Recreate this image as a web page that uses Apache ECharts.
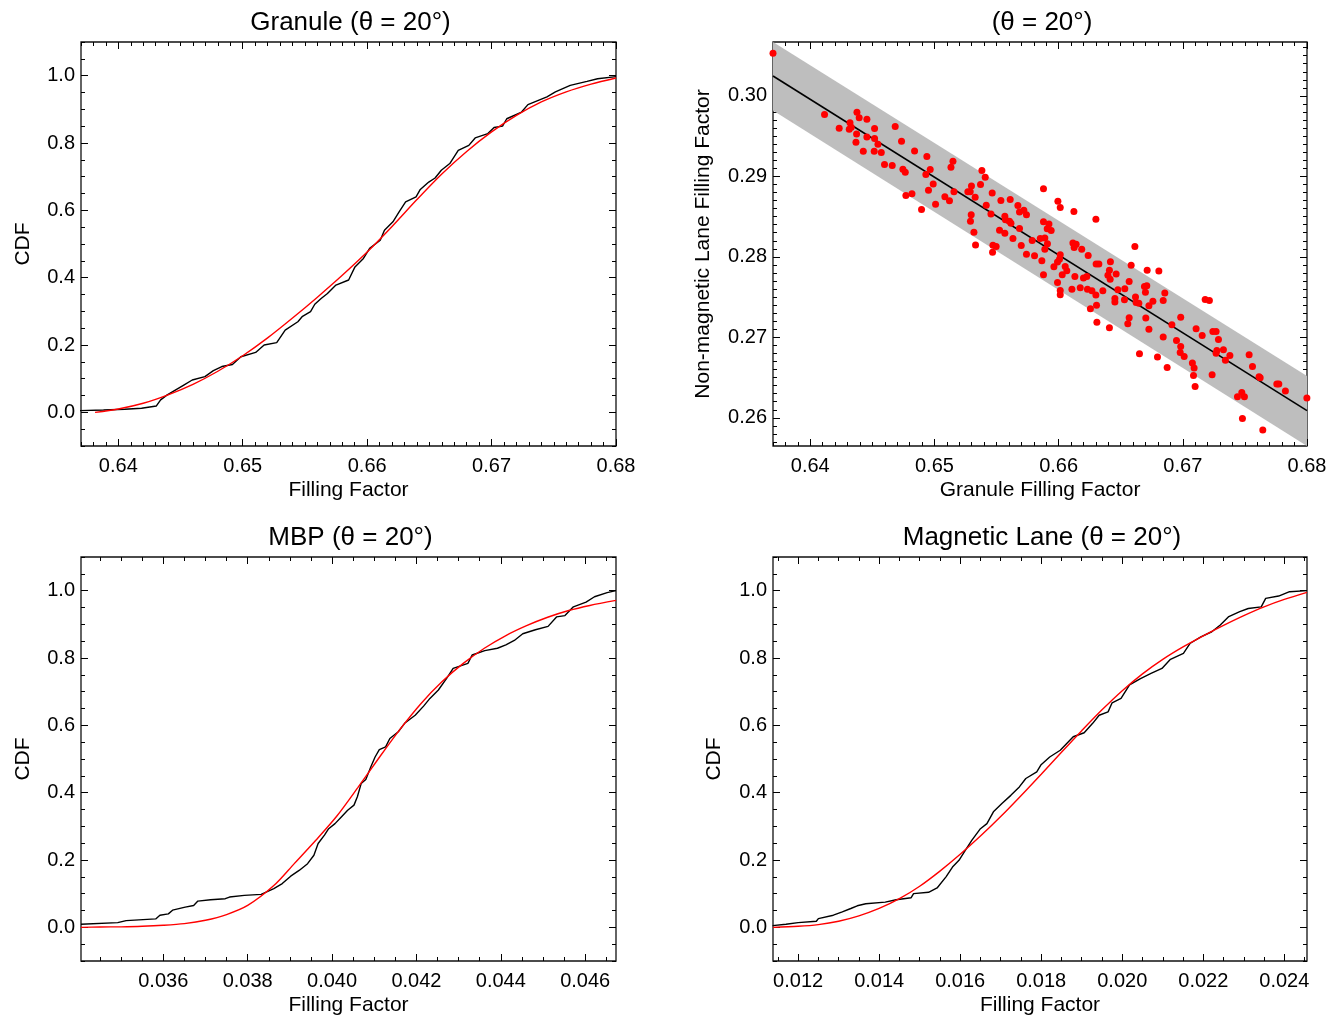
<!DOCTYPE html>
<html><head><meta charset="utf-8">
<script src="https://cdn.jsdelivr.net/npm/echarts@6/dist/echarts.min.js"></script>
<style>html,body{margin:0;padding:0;background:#fff}#c{width:1338px;height:1019px}</style>
</head><body><div id="c"></div>
<script>
// ---------------- DATA ----------------
// Panel 1: Granule CDF
const granuleEcdfX = [0.63688,0.63881,0.64051,0.64187,0.64306,0.64340,0.64390,0.64458,0.64526,0.64594,0.64696,0.64764,0.64832,0.64917,0.64985,0.65104,0.65172,0.65273,0.65341,0.65443,0.65477,0.65545,0.65579,0.65630,0.65681,0.65749,0.65851,0.65902,0.65970,0.66020,0.66105,0.66139,0.66207,0.66258,0.66309,0.66393,0.66427,0.66495,0.66546,0.66596,0.66664,0.66732,0.66817,0.66868,0.66970,0.67020,0.67088,0.67122,0.67241,0.67292,0.67445,0.67513,0.67632,0.67767,0.67852,0.68];
const granuleEcdfY = [0.005,0.007,0.009,0.012,0.019,0.037,0.051,0.066,0.081,0.096,0.106,0.124,0.136,0.142,0.165,0.178,0.200,0.207,0.244,0.269,0.284,0.299,0.321,0.338,0.353,0.378,0.393,0.432,0.457,0.487,0.511,0.541,0.566,0.596,0.625,0.640,0.662,0.684,0.696,0.719,0.739,0.778,0.793,0.815,0.828,0.846,0.850,0.872,0.892,0.914,0.937,0.952,0.971,0.983,0.991,0.997];
const granuleFitX = [0.63813,0.640,0.642,0.644,0.646,0.648,0.650,0.652,0.654,0.656,0.658,0.660,0.662,0.664,0.666,0.668,0.670,0.672,0.674,0.676,0.678,0.680];
const granuleFitY = [0.000,0.010,0.027,0.052,0.083,0.122,0.168,0.221,0.280,0.342,0.407,0.476,0.552,0.632,0.708,0.775,0.833,0.882,0.922,0.952,0.975,0.993];

// Panel 2: scatter granule vs non-magnetic lane
const scatterX = [0.64115,0.64376,0.64394,0.64456,0.64320,0.64233,0.64330,0.64314,0.64518,0.64373,
0.64456,0.64518,0.64368,0.64545,0.64427,0.64515,0.64572,0.64684,0.64735,0.64840,
0.64939,0.64966,0.64931,0.64990,0.64952,0.64598,0.64660,0.64746,0.64765,0.64770,
0.64819,0.64896,0.65009,0.65084,0.65121,0.65157,0.65149,0.65133,0.65269,0.65298,
0.65288,0.65328,0.65382,0.65409,0.65371,0.65465,0.65417,0.65455,0.65535,0.65610,
0.65672,0.65685,0.65720,0.65741,0.65567,0.65572,0.65604,0.65616,0.65685,0.65524,
0.65567,0.65632,0.65787,0.65296,0.65290,0.65318,0.65331,0.65471,0.65497,0.65468,
0.65699,0.65741,0.65806,0.65865,0.65878,0.65878,0.65878,0.65852,0.65889,0.65908,
0.65922,0.65910,0.65889,0.63700,0.65994,0.66013,0.66123,0.65940,0.66115,0.66141,
0.66125,0.66186,0.66013,0.66007,0.65991,0.65962,0.66053,0.66066,0.66029,0.66131,
0.65991,0.66013,0.66013,0.66107,0.66174,0.66300,0.66614,0.66238,0.66302,0.66324,
0.66417,0.66584,0.66409,0.66463,0.66397,0.66415,0.66227,0.66200,0.66713,0.66807,
0.66568,0.66232,0.66268,0.66300,0.66356,0.66477,0.66533,0.66691,0.66710,0.66699,
0.66855,0.66619,0.66453,0.66453,0.66530,0.66624,0.66646,0.66759,0.66842,0.66727,
0.66256,0.66305,0.66568,0.66557,0.66702,0.66308,0.66409,0.66727,0.66912,0.66983,
0.66842,0.66949,0.66983,0.66979,0.66651,0.66796,0.66874,0.67180,0.67214,0.67107,
0.67156,0.67242,0.67268,0.67287,0.67327,0.67274,0.67268,0.67379,0.67343,0.67534,
0.67011,0.67077,0.67091,0.67086,0.67099,0.67236,0.67561,0.67614,0.67623,0.67757,
0.67773,0.67826,0.67475,0.67440,0.67496,0.67999,0.67480,0.67644];
const scatterY = [0.29768,0.29798,0.29730,0.29711,0.29668,0.29599,0.29611,0.29586,0.29594,0.29528,
0.29491,0.29470,0.29425,0.29400,0.29313,0.29313,0.29296,0.29619,0.29437,0.29317,
0.29246,0.29085,0.29023,0.28907,0.28829,0.29147,0.29134,0.29090,0.29052,0.28762,
0.28783,0.28588,0.28655,0.28746,0.28696,0.28808,0.29189,0.29114,0.28808,0.28882,
0.28808,0.28742,0.29072,0.28990,0.28898,0.28795,0.28642,0.28534,0.28700,0.28712,
0.28638,0.28559,0.28580,0.28522,0.28506,0.28460,0.28444,0.28419,0.28352,0.28332,
0.28295,0.28228,0.28203,0.28522,0.28444,0.28307,0.28149,0.28146,0.28128,0.28059,
0.28141,0.28034,0.28013,0.27951,0.27777,0.28845,0.28435,0.28228,0.28236,0.28348,
0.28410,0.28162,0.28096,0.30530,0.28692,0.28613,0.28563,0.28327,0.28171,0.28158,
0.28116,0.28094,0.28025,0.27972,0.27935,0.27876,0.27880,0.27827,0.27777,0.27756,
0.27681,0.27582,0.27528,0.27599,0.27615,0.28469,0.28128,0.28017,0.27910,0.27910,
0.27938,0.27897,0.27835,0.27786,0.27773,0.27723,0.27756,0.27736,0.27835,0.27823,
0.27694,0.27599,0.27578,0.27525,0.27578,0.27591,0.27603,0.27632,0.27640,0.27562,
0.27550,0.27500,0.27483,0.27438,0.27466,0.27433,0.27425,0.27450,0.27458,0.27392,
0.27355,0.27400,0.27243,0.27168,0.27239,0.27189,0.27119,0.27102,0.27156,0.27249,
0.27003,0.26961,0.26886,0.26812,0.26796,0.26755,0.26625,0.27470,0.27458,0.27106,
0.27023,0.27073,0.27073,0.26973,0.26845,0.26837,0.26804,0.26775,0.26717,0.26783,
0.26762,0.26680,0.26618,0.26526,0.26390,0.26535,0.26638,0.26510,0.26498,0.26419,
0.26419,0.26332,0.26315,0.26261,0.26261,0.26246,0.25992,0.25848];
const fitLineX = [0.637, 0.680];
const fitLineY = [0.30248, 0.2609];
const bandX = [0.637, 0.680];
const bandLow = [0.2982, 0.2565];
const bandHigh = [0.3067, 0.2652];

// Panel 3: MBP CDF
const mbpEcdfX = [0.03405,0.03492,0.03512,0.03582,0.03592,0.03612,0.03622,0.03652,0.03672,0.03682,0.03712,0.03747,0.03757,0.03792,0.03832,0.03862,0.03882,0.03902,0.03922,0.03942,0.03957,0.03967,0.03982,0.03992,0.04007,0.04022,0.04037,0.04052,0.04060,0.04069,0.04080,0.04092,0.04102,0.04112,0.04127,0.04137,0.04157,0.04172,0.04197,0.04217,0.04232,0.04252,0.04272,0.04287,0.04322,0.04332,0.04362,0.04392,0.04412,0.04432,0.04452,0.04482,0.04512,0.04532,0.04552,0.04572,0.04602,0.04622,0.04652,0.04673];
const mbpEcdfY = [0.009,0.014,0.020,0.025,0.036,0.040,0.051,0.060,0.065,0.078,0.082,0.085,0.090,0.095,0.098,0.115,0.130,0.152,0.169,0.189,0.214,0.249,0.274,0.293,0.308,0.328,0.348,0.363,0.388,0.427,0.439,0.477,0.506,0.528,0.536,0.561,0.581,0.606,0.630,0.657,0.680,0.705,0.740,0.769,0.784,0.809,0.822,0.829,0.839,0.852,0.872,0.884,0.894,0.922,0.926,0.952,0.966,0.982,0.994,1.000];
const mbpFitX = [0.03405,0.0345,0.0350,0.0355,0.0360,0.0365,0.0370,0.0375,0.0380,0.03862,0.03911,0.03961,0.04011,0.04061,0.04111,0.04161,0.04211,0.04261,0.04311,0.04361,0.04411,0.04461,0.04511,0.04561,0.04611,0.04673];
const mbpFitY = [0.000,0.001,0.0015,0.003,0.006,0.011,0.021,0.038,0.065,0.124,0.190,0.258,0.330,0.415,0.503,0.588,0.665,0.730,0.784,0.829,0.866,0.896,0.921,0.941,0.956,0.971];

// Panel 4: Magnetic lane CDF
const mlEcdfX = [0.01137,0.01170,0.01200,0.01245,0.01250,0.01287,0.01309,0.01330,0.01346,0.01367,0.01415,0.01442,0.01479,0.01485,0.01522,0.01543,0.01565,0.01581,0.01597,0.01613,0.01629,0.01650,0.01666,0.01682,0.01703,0.01725,0.01746,0.01762,0.01789,0.01799,0.01821,0.01847,0.01879,0.01906,0.01927,0.01943,0.01965,0.01975,0.01997,0.02018,0.02045,0.02071,0.02098,0.02119,0.02151,0.02167,0.02194,0.02221,0.02242,0.02263,0.02290,0.02311,0.02343,0.02354,0.02386,0.02413,0.02456];
const mlEcdfY = [0.005,0.009,0.014,0.018,0.026,0.036,0.046,0.056,0.064,0.070,0.075,0.082,0.088,0.100,0.104,0.117,0.150,0.179,0.199,0.229,0.259,0.293,0.308,0.343,0.368,0.392,0.417,0.442,0.462,0.482,0.506,0.526,0.566,0.578,0.606,0.630,0.640,0.667,0.680,0.720,0.739,0.754,0.769,0.796,0.814,0.843,0.863,0.878,0.898,0.923,0.938,0.947,0.952,0.977,0.984,0.997,1.000];
const mlFitX = [0.01138,0.0120,0.0125,0.0130,0.0135,0.0140,0.0145,0.0150,0.0155,0.0160,0.0165,0.0170,0.0175,0.0180,0.0185,0.0190,0.0195,0.0200,0.0205,0.0210,0.0215,0.0220,0.0225,0.0230,0.0235,0.0240,0.02456];
const mlFitY = [0.000,0.003,0.008,0.018,0.034,0.056,0.085,0.122,0.167,0.217,0.271,0.329,0.391,0.455,0.520,0.584,0.646,0.703,0.753,0.796,0.833,0.866,0.897,0.926,0.952,0.974,0.995];

// Tick labels
const cdfYTicks = [0.0,0.2,0.4,0.6,0.8,1.0];
const granuleXTicks = [0.64,0.65,0.66,0.67,0.68];
const laneYTicks = [0.26,0.27,0.28,0.29,0.30];
const mbpXTicks = [0.036,0.038,0.040,0.042,0.044,0.046];
const mlXTicks = [0.012,0.014,0.016,0.018,0.020,0.022,0.024];

// ---------------- CHART ----------------
const FONT = '"Liberation Sans", Arial, Helvetica, sans-serif';
function steps(a, b, step) {
  const out = [];
  const n0 = Math.ceil(a / step - 1e-9), n1 = Math.floor(b / step + 1e-9);
  for (let n = n0; n <= n1; n++) out.push(+(n * step).toFixed(6));
  return out;
}
const panels = [
  {title:'Granule (\u03b8 = 20\u00b0)', rect:[81,42,535,404], xr:[0.637,0.680], yr:[-0.1,1.1],
   xMajor:granuleXTicks, xMinor:steps(0.637,0.680,0.001), yMajor:cdfYTicks, yMinor:steps(-0.1,1.1,0.05),
   xDec:2, yDec:1, xName:'Filling Factor', yName:'CDF', yGap:47},
  {title:'(\u03b8 = 20\u00b0)', rect:[773,42,534,404], xr:[0.637,0.680], yr:[0.2565,0.3067],
   xMajor:granuleXTicks, xMinor:steps(0.637,0.680,0.001), yMajor:laneYTicks, yMinor:steps(0.2565,0.3067,0.001),
   xDec:2, yDec:2, xName:'Granule Filling Factor', yName:'Non-magnetic Lane Filling Factor', yGap:59},
  {title:'MBP (\u03b8 = 20\u00b0)', rect:[81,557,535,404], xr:[0.03405,0.04673], yr:[-0.1,1.1],
   xMajor:mbpXTicks, xMinor:steps(0.03405,0.04673,0.0005), yMajor:cdfYTicks, yMinor:steps(-0.1,1.1,0.05),
   xDec:3, yDec:1, xName:'Filling Factor', yName:'CDF', yGap:47},
  {title:'Magnetic Lane (\u03b8 = 20\u00b0)', rect:[773,557,534,404], xr:[0.01138,0.02456], yr:[-0.1,1.1],
   xMajor:mlXTicks, xMinor:steps(0.01138,0.02456,0.0005), yMajor:cdfYTicks, yMinor:steps(-0.1,1.1,0.05),
   xDec:3, yDec:1, xName:'Filling Factor', yName:'CDF', yGap:48}
];

function mkAxis(dim, grid, range, ticks, len, pos, showLabel, dec, name, gap) {
  const a = {
    type:'value', gridIndex:grid, position:pos, min:range[0], max:range[1],
    axisLine:{show:false, onZero:false}, splitLine:{show:false}, minorTick:{show:false},
    axisTick:{show:true, inside:true, length:len, customValues:ticks, lineStyle:{color:'#000', width:1}},
    axisLabel:{show:showLabel, customValues:ticks, formatter:v => Number(v).toFixed(dec),
      color:'#000', fontSize:20, fontFamily:FONT, margin: dim === 'x' ? 10 : 6}
  };
  if (name) {
    a.name = name; a.nameLocation = 'middle'; a.nameGap = gap;
    a.nameTextStyle = {color:'#000', fontSize:21, fontFamily:FONT};
  }
  return a;
}

const grids = [], xAxes = [], yAxes = [], graphics = [];
panels.forEach((p, i) => {
  const [l, t, w, h] = p.rect;
  grids.push({left:l, top:t, width:w, height:h, show:true, borderColor:'#111', borderWidth:1.3, backgroundColor:'transparent'});
  grids.push({left:l, top:t, width:w, height:h, show:false});
  const g = 2 * i, gm = 2 * i + 1;
  xAxes.push(mkAxis('x', g, p.xr, p.xMajor, 7, 'bottom', true, p.xDec, p.xName, 34));
  xAxes.push(mkAxis('x', g, p.xr, p.xMajor, 7, 'top', false, p.xDec));
  xAxes.push(mkAxis('x', gm, p.xr, p.xMinor, 4, 'bottom', false, p.xDec));
  xAxes.push(mkAxis('x', gm, p.xr, p.xMinor, 4, 'top', false, p.xDec));
  yAxes.push(mkAxis('y', g, p.yr, p.yMajor, 7, 'left', true, p.yDec, p.yName, p.yGap));
  yAxes.push(mkAxis('y', g, p.yr, p.yMajor, 7, 'right', false, p.yDec));
  yAxes.push(mkAxis('y', gm, p.yr, p.yMinor, 4, 'left', false, p.yDec));
  yAxes.push(mkAxis('y', gm, p.yr, p.yMinor, 4, 'right', false, p.yDec));
  graphics.push({type:'text', x:l + w / 2 + 2, y:t - 19, z:100,
    style:{text:p.title, font:'26px ' + FONT, fill:'#000', align:'center', verticalAlign:'middle',
      textAlign:'center', textVerticalAlign:'middle'}});
});

const zip = (xs, ys) => xs.map((x, k) => [x, ys[k]]);
function cdfSeries(i, xs, ys, color, smooth, z) {
  return {type:'line', xAxisIndex:4 * i, yAxisIndex:4 * i, data:zip(xs, ys), showSymbol:false, symbol:'none',
    smooth:smooth, clip:true, z:z,
    lineStyle:{color:color, width:1.4}, silent:true};
}

const series = [
  cdfSeries(0, granuleEcdfX, granuleEcdfY, '#000', false, 3),
  cdfSeries(0, granuleFitX, granuleFitY, '#ff0000', 0.3, 4),
  {type:'custom', xAxisIndex:4, yAxisIndex:4, clip:true, z:1, silent:true,
   data:[[bandX[0], bandLow[0], bandHigh[0], bandX[1], bandLow[1], bandHigh[1]]],
   encode:{x:[0, 3], y:[1, 2, 4, 5]},
   renderItem:(params, api) => {
     const p1 = api.coord([api.value(0), api.value(1)]);
     const p2 = api.coord([api.value(3), api.value(4)]);
     const p3 = api.coord([api.value(3), api.value(5)]);
     const p4 = api.coord([api.value(0), api.value(2)]);
     return {type:'polygon', shape:{points:[p1, p2, p3, p4]}, style:{fill:'#bebebe', stroke:null}};
   }},
  {type:'line', xAxisIndex:4, yAxisIndex:4, data:zip(fitLineX, fitLineY), showSymbol:false, symbol:'none',
   z:2, lineStyle:{color:'#000', width:1.6}, silent:true},
  {type:'scatter', xAxisIndex:4, yAxisIndex:4, data:zip(scatterX, scatterY), symbolSize:7, z:3,
   itemStyle:{color:'#ff0000', opacity:1}, silent:true},
  cdfSeries(2, mbpEcdfX, mbpEcdfY, '#000', false, 3),
  cdfSeries(2, mbpFitX, mbpFitY, '#ff0000', 0.3, 4),
  cdfSeries(3, mlEcdfX, mlEcdfY, '#000', false, 3),
  cdfSeries(3, mlFitX, mlFitY, '#ff0000', 0.3, 4)
];

const chart = echarts.init(document.getElementById('c'), null, {renderer:'canvas'});
chart.setOption({
  backgroundColor:'#fff', animation:false,
  textStyle:{fontFamily:FONT},
  grid:grids, xAxis:xAxes, yAxis:yAxes, series:series, graphic:graphics
});
</script></body></html>
